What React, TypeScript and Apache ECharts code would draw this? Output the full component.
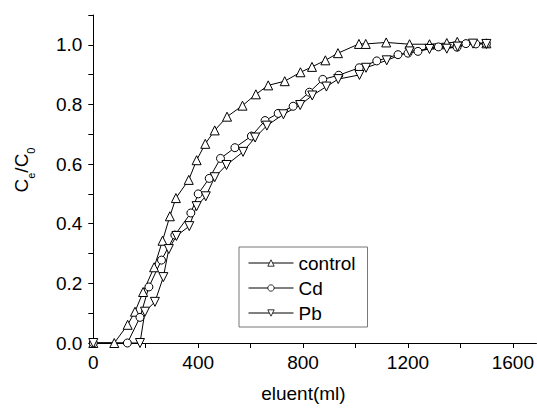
import React, { useEffect, useRef } from "react";
import * as echarts from "echarts";

const FONT = "'Liberation Sans', Arial, sans-serif";

const controlX = [0, 80, 131, 159, 190, 232, 264, 292, 315, 364, 394, 427, 463, 510, 569, 620, 667, 730, 790, 834, 885, 933, 1013, 1039, 1117, 1206, 1282, 1348, 1388, 1499];
const controlY = [0, 0, 0.061, 0.105, 0.171, 0.254, 0.343, 0.425, 0.486, 0.547, 0.613, 0.668, 0.713, 0.759, 0.796, 0.834, 0.864, 0.878, 0.908, 0.926, 0.948, 0.972, 1.003, 1.003, 1.008, 1.002, 1.002, 1.006, 1.01, 1.005];

const cdX = [0, 130, 178, 212, 260, 311, 372, 400, 442, 485, 540, 603, 655, 705, 762, 824, 875, 936, 1014, 1081, 1162, 1200, 1238, 1316, 1387, 1421, 1459, 1499];
const cdY = [0, 0, 0.086, 0.188, 0.278, 0.362, 0.436, 0.5, 0.552, 0.619, 0.655, 0.694, 0.746, 0.77, 0.794, 0.841, 0.884, 0.898, 0.923, 0.946, 0.967, 0.972, 0.978, 0.993, 0.992, 1.004, 1.003, 1.004];

const pbX = [0, 178, 197, 235, 267, 288, 317, 366, 394, 429, 463, 508, 571, 617, 662, 725, 789, 835, 889, 934, 1015, 1040, 1119, 1206, 1282, 1348, 1389, 1448, 1499];
const pbY = [0, 0, 0.105, 0.138, 0.221, 0.315, 0.359, 0.392, 0.459, 0.492, 0.556, 0.597, 0.641, 0.689, 0.729, 0.767, 0.798, 0.83, 0.86, 0.885, 0.899, 0.923, 0.948, 0.978, 0.986, 0.987, 0.994, 1.004, 1.003];

const xMajorTicks = [0, 400, 800, 1200, 1600];
const xAllTicks = [0, 200, 400, 600, 800, 1000, 1200, 1400, 1600];
const yMajorTicks = [0, 0.2, 0.4, 0.6, 0.8, 1.0];
const yAllTicks = [0, 0.1, 0.2, 0.3, 0.4, 0.5, 0.6, 0.7, 0.8, 0.9, 1.0, 1.1];

const zip = (xs: number[], ys: number[]) => xs.map((x, i) => [x, ys[i]]);

export default function App() {
  const ref = useRef<HTMLDivElement>(null);
  useEffect(() => {
    if (!ref.current) return;
    const chart = echarts.init(ref.current, null, { renderer: "svg" });
    const markerStyle = { color: "#fff", borderColor: "#000", borderWidth: 1 };
    const common = {
      type: "line" as const,
      lineStyle: { color: "#000", width: 1 },
      itemStyle: markerStyle,
      showAllSymbol: true,
      z: 3,
    };
    chart.setOption({
      animation: false,
      backgroundColor: "#fff",
      textStyle: { fontFamily: FONT, color: "#000" },
      grid: { left: 93.3, right: 0, top: 15, bottom: 61.3, containLabel: false },
      xAxis: {
        type: "value",
        min: 0,
        max: 1690,
        name: "eluent(ml)",
        nameLocation: "middle",
        nameGap: 41,
        nameTextStyle: { fontSize: 19, color: "#000", fontFamily: FONT, padding: [0, 23, 0, 0] },
        axisLine: { show: true, onZero: false, lineStyle: { color: "#000", width: 1 } },
        axisTick: { show: true, length: 5, customValues: xAllTicks, lineStyle: { color: "#000" } },
        axisLabel: {
          customValues: xMajorTicks,
          fontSize: 19,
          color: "#000",
          fontFamily: FONT,
          margin: 10,
          formatter: (v: number) => String(v),
        },
        splitLine: { show: false },
      },
      yAxis: {
        type: "value",
        min: 0,
        max: 1.1,
        axisLine: { show: true, lineStyle: { color: "#000", width: 1 } },
        axisTick: { show: true, length: 5, customValues: yAllTicks, lineStyle: { color: "#000" } },
        axisLabel: {
          customValues: yMajorTicks,
          fontSize: 19,
          color: "#000",
          fontFamily: FONT,
          margin: 11,
          formatter: (v: number) => v.toFixed(1),
        },
        splitLine: { show: false },
      },
      legend: {
        left: 239,
        top: 247,
        orient: "vertical",
        itemWidth: 45,
        itemHeight: 8,
        itemGap: 3,
        padding: [5, 12, 3, 9],
        borderColor: "#777",
        borderWidth: 1,
        backgroundColor: "#fff",
        itemStyle: { color: "#fff", borderColor: "#000", borderWidth: 0.8 },
        lineStyle: { color: "#000", width: 1 },
        textStyle: { fontSize: 19, color: "#000", fontFamily: FONT, lineHeight: 22 },
        data: ["control", "Cd", "Pb"],
      },
      graphic: [
        {
          type: "text",
          x: 21.5,
          y: 170,
          rotation: Math.PI / 2,
          style: {
            text: "{m|C}{s|e}{m|/C}{s|0}",
            align: "center",
            verticalAlign: "middle",
            fill: "#000",
            rich: {
              m: { fontSize: 19, lineHeight: 30, fontFamily: FONT, fill: "#000" },
              s: { fontSize: 11, lineHeight: 30, verticalAlign: "bottom", fontFamily: FONT, fill: "#000" },
            },
          },
        },
      ],
      series: [
        { ...common, name: "control", data: zip(controlX, controlY), symbol: "triangle", symbolSize: 9 },
        { ...common, name: "Cd", data: zip(cdX, cdY), symbol: "circle", symbolSize: 8 },
        { ...common, name: "Pb", data: zip(pbX, pbY), symbol: "triangle", symbolRotate: 180, symbolSize: 9 },
      ],
    });
    return () => chart.dispose();
  }, []);
  return <div ref={ref} style={{ width: 537, height: 408, position: "fixed", left: 0, top: 0 }} />;
}
